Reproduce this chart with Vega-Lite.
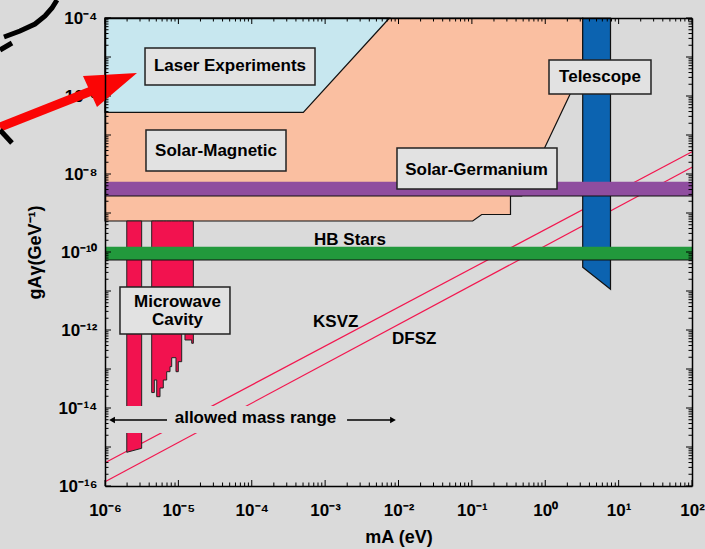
{
  "$schema": "https://vega.github.io/schema/vega-lite/v6.json",
  "width": 587,
  "height": 468,
  "autosize": "none",
  "padding": {"left": 105, "top": 18, "right": 13, "bottom": 63},
  "background": "#dadada",
  "config": {"view": {"stroke": null}, "font": "Liberation Sans"},
  "datasets": {
    "models": [
      {"model": "KSVZ", "x": 1e-6, "g": 3.95e-16},
      {"model": "KSVZ", "x": 100, "g": 3.73e-8},
      {"model": "DFSZ", "x": 1e-6, "g": 1.29e-16},
      {"model": "DFSZ", "x": 100, "g": 1.485e-8}
    ],
    "areas": [
      {"name": "solar", "i": 1, "x": 1e-6, "lo": 6.24e-10, "hi": 1e-4},
      {"name": "solar", "i": 2, "x": 0.1026, "lo": 6.24e-10, "hi": 1e-4},
      {"name": "solar", "i": 3, "x": 0.1361, "lo": 9.16e-10, "hi": 1e-4},
      {"name": "solar", "i": 4, "x": 0.336, "lo": 9.16e-10, "hi": 1e-4},
      {"name": "solar", "i": 5, "x": 0.336, "lo": 2.73e-9, "hi": 1e-4},
      {"name": "solar", "i": 6, "x": 0.479, "lo": 2.73e-9, "hi": 1e-4},
      {"name": "solar", "i": 7, "x": 3.24, "lo": 5.38e-6, "hi": 1e-4},
      {"name": "solar", "i": 8, "x": 3.24, "lo": 1e-4, "hi": 1e-4},
      {"name": "laser", "i": 1, "x": 1e-6, "lo": 3.82e-7, "hi": 1e-4},
      {"name": "laser", "i": 2, "x": 5.04e-4, "lo": 3.82e-7, "hi": 1e-4},
      {"name": "laser", "i": 3, "x": 7.54e-3, "lo": 1e-4, "hi": 1e-4},
      {"name": "telescope", "i": 1, "x": 3.24, "lo": 4.06e-11, "hi": 1e-4},
      {"name": "telescope", "i": 2, "x": 7.75, "lo": 1.107e-11, "hi": 1e-4},
      {"name": "cavity1", "i": 1, "x": 1.98e-6, "lo": 7.31e-16, "hi": 6.24e-10},
      {"name": "cavity1", "i": 2, "x": 3.16e-6, "lo": 9.27e-16, "hi": 6.24e-10},
      {"name": "cavity2", "i": 1, "x": 4.33e-6, "lo": 2.49e-14, "hi": 6.24e-10},
      {"name": "cavity2", "i": 2, "x": 4.70e-6, "lo": 5.22e-14, "hi": 6.24e-10},
      {"name": "cavity2", "i": 3, "x": 5.07e-6, "lo": 1.95e-14, "hi": 6.24e-10},
      {"name": "cavity2", "i": 4, "x": 5.62e-6, "lo": 3.26e-14, "hi": 6.24e-10},
      {"name": "cavity2", "i": 5, "x": 6.23e-6, "lo": 5.22e-14, "hi": 6.24e-10},
      {"name": "cavity2", "i": 6, "x": 6.93e-6, "lo": 8.53e-14, "hi": 6.24e-10},
      {"name": "cavity2", "i": 7, "x": 7.69e-6, "lo": 1.15e-13, "hi": 6.24e-10},
      {"name": "cavity2", "i": 8, "x": 8.11e-6, "lo": 1.95e-13, "hi": 6.24e-10},
      {"name": "cavity2", "i": 9, "x": 9.28e-6, "lo": 8.53e-14, "hi": 6.24e-10},
      {"name": "cavity2", "i": 10, "x": 9.98e-6, "lo": 1.54e-13, "hi": 6.24e-10},
      {"name": "cavity2", "i": 11, "x": 1.11e-5, "lo": 8.38e-13, "hi": 6.24e-10},
      {"name": "cavity2", "i": 12, "x": 1.23e-5, "lo": 5.55e-13, "hi": 6.24e-10},
      {"name": "cavity2", "i": 13, "x": 1.52e-5, "lo": 4.56e-13, "hi": 6.24e-10},
      {"name": "cavity2", "i": 14, "x": 1.60e-5, "lo": 4.56e-13, "hi": 6.24e-10},
      {"name": "arrowhead", "i": 1, "x": 5.013e-7, "lo": 3.257e-6, "hi": 3.257e-6},
      {"name": "arrowhead", "i": 2, "x": 7.78e-7, "lo": 5.222e-7, "hi": 3.41e-6},
      {"name": "arrowhead", "i": 3, "x": 2.729e-6, "lo": 3.888e-6, "hi": 3.888e-6}
    ],
    "bands": [
      {"band": "Solar-Germanium", "x1": 1e-6, "x2": 100, "lo": 2.73e-9, "hi": 6.35e-9},
      {"band": "HB Stars", "x1": 1e-6, "x2": 100, "lo": 6.24e-11, "hi": 1.37e-10}
    ],
    "boxes": [
      {"box": "Laser Experiments", "x1": 3.51e-6, "x2": 7.28e-4, "y1": 1.914e-6, "y2": 1.702e-5},
      {"box": "Solar-Magnetic", "x1": 3.62e-6, "x2": 2.93e-4, "y1": 1.194e-8, "y2": 1.343e-7},
      {"box": "Telescope", "x1": 1.125, "x2": 27.62, "y1": 1.125e-6, "y2": 8.375e-6},
      {"box": "Solar-Germanium", "x1": 9.54e-3, "x2": 1.446, "y1": 4.124e-9, "y2": 4.64e-8},
      {"box": "Microwave Cavity", "x1": 1.6e-6, "x2": 5.05e-5, "y1": 7.9e-13, "y2": 1.267e-11}
    ],
    "mask": [
      {"x1": 1.37e-6, "x2": 1.23e-2, "y1": 2.29e-15, "y2": 1.12e-14}
    ],
    "labels": [
      {"label": "Laser Experiments", "x": 5.05e-5, "y": 5.71e-6},
      {"label": "Solar-Magnetic", "x": 3.257e-5, "y": 3.89e-8},
      {"label": "Telescope", "x": 5.576, "y": 3.07e-6},
      {"label": "Solar-Germanium", "x": 0.1156, "y": 1.304e-8},
      {"label": "Microwave\nCavity", "x": 9.73e-6, "y": 5.32e-12},
      {"label": "HB Stars", "x": 2.18e-3, "y": 2.03e-10},
      {"label": "KSVZ", "x": 1.393e-3, "y": 1.633e-12},
      {"label": "DFSZ", "x": 1.637e-2, "y": 5.88e-13},
      {"label": "allowed mass range", "x": 1.125e-4, "y": 5.54e-15}
    ],
    "rangeArrows": [
      {"dir": "left", "from": 7.0e-6, "to": 1.246e-6, "y": 4.92e-15},
      {"dir": "right", "from": 1.99e-3, "to": 8.415e-3, "y": 4.92e-15}
    ],
    "pointer": [
      {"x1": 3.707e-8, "y1": 1.604e-7, "x2": 6.65e-7, "y2": 1.367e-6}
    ],
    "curves": [
      {"piece": 1, "i": 1, "x": 2.217e-7, "y": 2.893e-4},
      {"piece": 1, "i": 2, "x": 1.895e-7, "y": 1.805e-4},
      {"piece": 1, "i": 3, "x": 1.522e-7, "y": 1.125e-4},
      {"piece": 1, "i": 4, "x": 1.112e-7, "y": 7.02e-5},
      {"piece": 1, "i": 5, "x": 6.94e-8, "y": 4.64e-5},
      {"piece": 1, "i": 6, "x": 4.2e-8, "y": 3.257e-5},
      {"piece": 2, "i": 1, "x": 3.707e-8, "y": 1.512e-5},
      {"piece": 2, "i": 2, "x": 5.4e-8, "y": 2.286e-5},
      {"piece": 3, "i": 1, "x": 3.707e-8, "y": 1.343e-7},
      {"piece": 3, "i": 2, "x": 5.4e-8, "y": 6.23e-8}
    ],
    "xticks": [
      {"v": 1e-6, "kind": "major"}, {"v": 2e-6, "kind": "minor"}, {"v": 3e-6, "kind": "minor"}, {"v": 4e-6, "kind": "minor"}, {"v": 5e-6, "kind": "minor"}, {"v": 6e-6, "kind": "minor"}, {"v": 7e-6, "kind": "minor"}, {"v": 8e-6, "kind": "minor"}, {"v": 9e-6, "kind": "minor"},
      {"v": 1e-5, "kind": "major"}, {"v": 2e-5, "kind": "minor"}, {"v": 3e-5, "kind": "minor"}, {"v": 4e-5, "kind": "minor"}, {"v": 5e-5, "kind": "minor"}, {"v": 6e-5, "kind": "minor"}, {"v": 7e-5, "kind": "minor"}, {"v": 8e-5, "kind": "minor"}, {"v": 9e-5, "kind": "minor"},
      {"v": 1e-4, "kind": "major"}, {"v": 2e-4, "kind": "minor"}, {"v": 3e-4, "kind": "minor"}, {"v": 4e-4, "kind": "minor"}, {"v": 5e-4, "kind": "minor"}, {"v": 6e-4, "kind": "minor"}, {"v": 7e-4, "kind": "minor"}, {"v": 8e-4, "kind": "minor"}, {"v": 9e-4, "kind": "minor"},
      {"v": 1e-3, "kind": "major"}, {"v": 2e-3, "kind": "minor"}, {"v": 3e-3, "kind": "minor"}, {"v": 4e-3, "kind": "minor"}, {"v": 5e-3, "kind": "minor"}, {"v": 6e-3, "kind": "minor"}, {"v": 7e-3, "kind": "minor"}, {"v": 8e-3, "kind": "minor"}, {"v": 9e-3, "kind": "minor"},
      {"v": 1e-2, "kind": "major"}, {"v": 2e-2, "kind": "minor"}, {"v": 3e-2, "kind": "minor"}, {"v": 4e-2, "kind": "minor"}, {"v": 5e-2, "kind": "minor"}, {"v": 6e-2, "kind": "minor"}, {"v": 7e-2, "kind": "minor"}, {"v": 8e-2, "kind": "minor"}, {"v": 9e-2, "kind": "minor"},
      {"v": 0.1, "kind": "major"}, {"v": 0.2, "kind": "minor"}, {"v": 0.3, "kind": "minor"}, {"v": 0.4, "kind": "minor"}, {"v": 0.5, "kind": "minor"}, {"v": 0.6, "kind": "minor"}, {"v": 0.7, "kind": "minor"}, {"v": 0.8, "kind": "minor"}, {"v": 0.9, "kind": "minor"},
      {"v": 1, "kind": "major"}, {"v": 2, "kind": "minor"}, {"v": 3, "kind": "minor"}, {"v": 4, "kind": "minor"}, {"v": 5, "kind": "minor"}, {"v": 6, "kind": "minor"}, {"v": 7, "kind": "minor"}, {"v": 8, "kind": "minor"}, {"v": 9, "kind": "minor"},
      {"v": 10, "kind": "major"}, {"v": 20, "kind": "minor"}, {"v": 30, "kind": "minor"}, {"v": 40, "kind": "minor"}, {"v": 50, "kind": "minor"}, {"v": 60, "kind": "minor"}, {"v": 70, "kind": "minor"}, {"v": 80, "kind": "minor"}, {"v": 90, "kind": "minor"},
      {"v": 100, "kind": "major"}
    ],
    "yticks": [
      {"v": 1e-16, "kind": "major"}, {"v": 2e-16, "kind": "minor"}, {"v": 3e-16, "kind": "minor"}, {"v": 4e-16, "kind": "minor"}, {"v": 5e-16, "kind": "minor"}, {"v": 6e-16, "kind": "minor"}, {"v": 7e-16, "kind": "minor"}, {"v": 8e-16, "kind": "minor"}, {"v": 9e-16, "kind": "minor"},
      {"v": 1e-15, "kind": "major"}, {"v": 2e-15, "kind": "minor"}, {"v": 3e-15, "kind": "minor"}, {"v": 4e-15, "kind": "minor"}, {"v": 5e-15, "kind": "minor"}, {"v": 6e-15, "kind": "minor"}, {"v": 7e-15, "kind": "minor"}, {"v": 8e-15, "kind": "minor"}, {"v": 9e-15, "kind": "minor"},
      {"v": 1e-14, "kind": "major"}, {"v": 2e-14, "kind": "minor"}, {"v": 3e-14, "kind": "minor"}, {"v": 4e-14, "kind": "minor"}, {"v": 5e-14, "kind": "minor"}, {"v": 6e-14, "kind": "minor"}, {"v": 7e-14, "kind": "minor"}, {"v": 8e-14, "kind": "minor"}, {"v": 9e-14, "kind": "minor"},
      {"v": 1e-13, "kind": "major"}, {"v": 2e-13, "kind": "minor"}, {"v": 3e-13, "kind": "minor"}, {"v": 4e-13, "kind": "minor"}, {"v": 5e-13, "kind": "minor"}, {"v": 6e-13, "kind": "minor"}, {"v": 7e-13, "kind": "minor"}, {"v": 8e-13, "kind": "minor"}, {"v": 9e-13, "kind": "minor"},
      {"v": 1e-12, "kind": "major"}, {"v": 2e-12, "kind": "minor"}, {"v": 3e-12, "kind": "minor"}, {"v": 4e-12, "kind": "minor"}, {"v": 5e-12, "kind": "minor"}, {"v": 6e-12, "kind": "minor"}, {"v": 7e-12, "kind": "minor"}, {"v": 8e-12, "kind": "minor"}, {"v": 9e-12, "kind": "minor"},
      {"v": 1e-11, "kind": "major"}, {"v": 2e-11, "kind": "minor"}, {"v": 3e-11, "kind": "minor"}, {"v": 4e-11, "kind": "minor"}, {"v": 5e-11, "kind": "minor"}, {"v": 6e-11, "kind": "minor"}, {"v": 7e-11, "kind": "minor"}, {"v": 8e-11, "kind": "minor"}, {"v": 9e-11, "kind": "minor"},
      {"v": 1e-10, "kind": "major"}, {"v": 2e-10, "kind": "minor"}, {"v": 3e-10, "kind": "minor"}, {"v": 4e-10, "kind": "minor"}, {"v": 5e-10, "kind": "minor"}, {"v": 6e-10, "kind": "minor"}, {"v": 7e-10, "kind": "minor"}, {"v": 8e-10, "kind": "minor"}, {"v": 9e-10, "kind": "minor"},
      {"v": 1e-9, "kind": "major"}, {"v": 2e-9, "kind": "minor"}, {"v": 3e-9, "kind": "minor"}, {"v": 4e-9, "kind": "minor"}, {"v": 5e-9, "kind": "minor"}, {"v": 6e-9, "kind": "minor"}, {"v": 7e-9, "kind": "minor"}, {"v": 8e-9, "kind": "minor"}, {"v": 9e-9, "kind": "minor"},
      {"v": 1e-8, "kind": "major"}, {"v": 2e-8, "kind": "minor"}, {"v": 3e-8, "kind": "minor"}, {"v": 4e-8, "kind": "minor"}, {"v": 5e-8, "kind": "minor"}, {"v": 6e-8, "kind": "minor"}, {"v": 7e-8, "kind": "minor"}, {"v": 8e-8, "kind": "minor"}, {"v": 9e-8, "kind": "minor"},
      {"v": 1e-7, "kind": "major"}, {"v": 2e-7, "kind": "minor"}, {"v": 3e-7, "kind": "minor"}, {"v": 4e-7, "kind": "minor"}, {"v": 5e-7, "kind": "minor"}, {"v": 6e-7, "kind": "minor"}, {"v": 7e-7, "kind": "minor"}, {"v": 8e-7, "kind": "minor"}, {"v": 9e-7, "kind": "minor"},
      {"v": 1e-6, "kind": "major"}, {"v": 2e-6, "kind": "minor"}, {"v": 3e-6, "kind": "minor"}, {"v": 4e-6, "kind": "minor"}, {"v": 5e-6, "kind": "minor"}, {"v": 6e-6, "kind": "minor"}, {"v": 7e-6, "kind": "minor"}, {"v": 8e-6, "kind": "minor"}, {"v": 9e-6, "kind": "minor"},
      {"v": 1e-5, "kind": "major"}, {"v": 2e-5, "kind": "minor"}, {"v": 3e-5, "kind": "minor"}, {"v": 4e-5, "kind": "minor"}, {"v": 5e-5, "kind": "minor"}, {"v": 6e-5, "kind": "minor"}, {"v": 7e-5, "kind": "minor"}, {"v": 8e-5, "kind": "minor"}, {"v": 9e-5, "kind": "minor"},
      {"v": 1e-4, "kind": "major"}
    ]
  },
  "resolve": {"axis": {"x": "independent", "y": "independent"}},
  "layer": [
    {
      "data": {"name": "models"},
      "mark": {"type": "line", "color": "#f2174f", "strokeWidth": 1.2},
      "encoding": {
        "x": {"field": "x", "type": "quantitative",
          "scale": {"type": "log", "domain": [1e-6, 100], "nice": false},
          "axis": {"orient": "bottom", "title": "mA (eV)", "titleFont": "Liberation Sans", "titleFontSize": 18, "titleFontWeight": "bold", "titleColor": "black", "titlePadding": 10,
            "labelFont": "Liberation Sans", "labelFontSize": 17, "labelFontWeight": "bold", "labelColor": "black", "labelPadding": 16,
            "labelExpr": "abs(log(datum.value)/LN10 - round(log(datum.value)/LN10)) < 0.01 ? '10' + (round(log(datum.value)/LN10) < 0 ? '⁻' : '') + (abs(round(log(datum.value)/LN10)) >= 10 ? '¹' : '') + substring('⁰¹²³⁴⁵⁶⁷⁸⁹', abs(round(log(datum.value)/LN10)) % 10, abs(round(log(datum.value)/LN10)) % 10 + 1) : ''",
            "labelOverlap": false, "labelFlush": false, "labelBound": false, "ticks": false, "domain": false, "grid": false, "tickCount": 40, "zindex": 0}},
        "y": {"field": "g", "type": "quantitative",
          "scale": {"type": "log", "domain": [1e-16, 1e-4], "nice": false},
          "axis": {"orient": "left", "title": "gAγ(GeV⁻¹)", "titleFont": "Liberation Sans", "titleFontSize": 18, "titleFontWeight": "bold", "titleColor": "black", "titlePadding": 14,
            "labelFont": "Liberation Sans", "labelFontSize": 17, "labelFontWeight": "bold", "labelColor": "black", "labelPadding": 8,
            "labelExpr": "abs(log(datum.value)/LN10 - round(log(datum.value)/LN10)) < 0.01 && round(log(datum.value)/LN10) % 2 == 0 ? '10' + (round(log(datum.value)/LN10) < 0 ? '⁻' : '') + (abs(round(log(datum.value)/LN10)) >= 10 ? '¹' : '') + substring('⁰¹²³⁴⁵⁶⁷⁸⁹', abs(round(log(datum.value)/LN10)) % 10, abs(round(log(datum.value)/LN10)) % 10 + 1) : ''",
            "labelOverlap": false, "labelFlush": false, "labelBound": false, "ticks": false, "domain": false, "grid": false, "tickCount": 40, "zindex": 0}},
        "detail": {"field": "model"}
      }
    },
    {
      "data": {"name": "areas"},
      "transform": [{"filter": "datum.name == 'solar'"}],
      "mark": {"type": "area", "color": "#fabfa1", "stroke": "#111111", "strokeWidth": 1.2, "opacity": 1},
      "encoding": {
        "x": {"field": "x", "type": "quantitative", "axis": null},
        "y": {"field": "lo", "type": "quantitative", "axis": null},
        "y2": {"field": "hi"}
      }
    },
    {
      "data": {"name": "areas"},
      "transform": [{"filter": "datum.name == 'laser'"}],
      "mark": {"type": "area", "color": "#c7e7ef", "stroke": "#111111", "strokeWidth": 1.2, "opacity": 1},
      "encoding": {
        "x": {"field": "x", "type": "quantitative", "axis": null},
        "y": {"field": "lo", "type": "quantitative", "axis": null},
        "y2": {"field": "hi"}
      }
    },
    {
      "data": {"name": "areas"},
      "transform": [{"filter": "datum.name == 'cavity1'"}],
      "mark": {"type": "area", "color": "#f2124f", "stroke": "#222222", "strokeWidth": 1, "opacity": 1},
      "encoding": {
        "x": {"field": "x", "type": "quantitative", "axis": null},
        "y": {"field": "lo", "type": "quantitative", "axis": null},
        "y2": {"field": "hi"}
      }
    },
    {
      "data": {"name": "areas"},
      "transform": [{"filter": "datum.name == 'cavity2'"}],
      "mark": {"type": "area", "interpolate": "step-after", "color": "#f2124f", "stroke": "#222222", "strokeWidth": 1, "opacity": 1},
      "encoding": {
        "x": {"field": "x", "type": "quantitative", "axis": null},
        "y": {"field": "lo", "type": "quantitative", "axis": null},
        "y2": {"field": "hi"}
      }
    },
    {
      "data": {"name": "areas"},
      "transform": [{"filter": "datum.name == 'telescope'"}],
      "mark": {"type": "area", "color": "#0c63b0", "stroke": "#111111", "strokeWidth": 1.2, "opacity": 1},
      "encoding": {
        "x": {"field": "x", "type": "quantitative",
          "axis": {"orient": "top", "labels": false, "title": null, "domain": true, "domainColor": "black", "domainWidth": 1.5, "ticks": false, "grid": false, "zindex": 1}},
        "y": {"field": "lo", "type": "quantitative",
          "axis": {"orient": "right", "labels": false, "title": null, "domain": true, "domainColor": "black", "domainWidth": 1.5, "ticks": false, "grid": false, "zindex": 1}},
        "y2": {"field": "hi"}
      }
    },
    {
      "data": {"name": "bands"},
      "mark": {"type": "rect"},
      "encoding": {
        "x": {"field": "x1", "type": "quantitative",
          "axis": {"orient": "bottom", "labels": false, "title": null, "domain": true, "domainColor": "black", "domainWidth": 1.5, "ticks": false, "grid": false, "zindex": 1}},
        "x2": {"field": "x2"},
        "y": {"field": "lo", "type": "quantitative",
          "axis": {"orient": "left", "labels": false, "title": null, "domain": true, "domainColor": "black", "domainWidth": 1.5, "ticks": false, "grid": false, "zindex": 1}},
        "y2": {"field": "hi"},
        "color": {"field": "band", "type": "nominal", "scale": {"domain": ["Solar-Germanium", "HB Stars"], "range": ["#8f4d9f", "#22993c"]}, "legend": null}
      }
    },
    {
      "data": {"name": "bands"},
      "mark": {"type": "rule", "color": "#111111", "strokeWidth": 1.2},
      "encoding": {
        "x": {"field": "x1", "type": "quantitative", "axis": null},
        "x2": {"field": "x2"},
        "y": {"field": "lo", "type": "quantitative", "axis": null}
      }
    },
    {
      "data": {"name": "mask"},
      "mark": {"type": "rect", "color": "#dadada"},
      "encoding": {
        "x": {"field": "x1", "type": "quantitative", "axis": null},
        "x2": {"field": "x2"},
        "y": {"field": "y1", "type": "quantitative", "axis": null},
        "y2": {"field": "y2"}
      }
    },
    {
      "data": {"name": "boxes"},
      "mark": {"type": "rect", "fill": "#e2e2e2", "stroke": "#222222", "strokeWidth": 1.5},
      "encoding": {
        "x": {"field": "x1", "type": "quantitative", "axis": null},
        "x2": {"field": "x2"},
        "y": {"field": "y1", "type": "quantitative", "axis": null},
        "y2": {"field": "y2"}
      }
    },
    {
      "data": {"name": "labels"},
      "mark": {"type": "text", "font": "Liberation Sans", "fontWeight": "bold", "fontSize": 17, "color": "black", "align": "center", "baseline": "middle", "lineBreak": "\n", "lineHeight": 18},
      "encoding": {
        "x": {"field": "x", "type": "quantitative", "axis": null},
        "y": {"field": "y", "type": "quantitative", "axis": null},
        "text": {"field": "label"}
      }
    },
    {
      "data": {"name": "rangeArrows"},
      "mark": {"type": "rule", "color": "black", "strokeWidth": 1.3},
      "encoding": {
        "x": {"field": "from", "type": "quantitative", "axis": null},
        "x2": {"field": "to"},
        "y": {"field": "y", "type": "quantitative", "axis": null}
      }
    },
    {
      "data": {"name": "rangeArrows"},
      "mark": {"type": "point", "filled": true, "color": "black", "size": 45, "opacity": 1},
      "encoding": {
        "x": {"field": "to", "type": "quantitative", "axis": null},
        "y": {"field": "y", "type": "quantitative", "axis": null},
        "shape": {"field": "dir", "type": "nominal", "scale": {"domain": ["left", "right"], "range": ["triangle-left", "triangle-right"]}, "legend": null}
      }
    },
    {
      "data": {"name": "xticks"},
      "mark": {"type": "point", "shape": "M0,0L0,-1", "filled": false, "color": "black", "strokeWidth": 1, "opacity": 1},
      "encoding": {
        "x": {"field": "v", "type": "quantitative", "axis": null},
        "y": {"datum": 1e-16, "type": "quantitative", "axis": null},
        "size": {"field": "kind", "type": "nominal", "scale": {"domain": ["minor", "major"], "range": [49, 144]}, "legend": null}
      }
    },
    {
      "data": {"name": "xticks"},
      "mark": {"type": "point", "shape": "M0,0L0,1", "filled": false, "color": "black", "strokeWidth": 1, "opacity": 1},
      "encoding": {
        "x": {"field": "v", "type": "quantitative", "axis": null},
        "y": {"datum": 1e-4, "type": "quantitative", "axis": null},
        "size": {"field": "kind", "type": "nominal", "scale": {"domain": ["minor", "major"], "range": [49, 144]}, "legend": null}
      }
    },
    {
      "data": {"name": "yticks"},
      "mark": {"type": "point", "shape": "M0,0L1,0", "filled": false, "color": "black", "strokeWidth": 1, "opacity": 1},
      "encoding": {
        "x": {"datum": 1e-6, "type": "quantitative", "axis": null},
        "y": {"field": "v", "type": "quantitative", "axis": null},
        "size": {"field": "kind", "type": "nominal", "scale": {"domain": ["minor", "major"], "range": [49, 144]}, "legend": null}
      }
    },
    {
      "data": {"name": "yticks"},
      "mark": {"type": "point", "shape": "M0,0L-1,0", "filled": false, "color": "black", "strokeWidth": 1, "opacity": 1},
      "encoding": {
        "x": {"datum": 100, "type": "quantitative", "axis": null},
        "y": {"field": "v", "type": "quantitative", "axis": null},
        "size": {"field": "kind", "type": "nominal", "scale": {"domain": ["minor", "major"], "range": [49, 144]}, "legend": null}
      }
    },
    {
      "data": {"name": "pointer"},
      "mark": {"type": "rule", "color": "#fb0505", "strokeWidth": 9, "strokeCap": "butt"},
      "encoding": {
        "x": {"field": "x1", "type": "quantitative", "axis": null},
        "x2": {"field": "x2"},
        "y": {"field": "y1", "type": "quantitative", "axis": null},
        "y2": {"field": "y2"}
      }
    },
    {
      "data": {"name": "areas"},
      "transform": [{"filter": "datum.name == 'arrowhead'"}],
      "mark": {"type": "area", "color": "#fb0505", "opacity": 1},
      "encoding": {
        "x": {"field": "x", "type": "quantitative", "axis": null},
        "y": {"field": "lo", "type": "quantitative", "axis": null},
        "y2": {"field": "hi"}
      }
    },
    {
      "data": {"name": "curves"},
      "mark": {"type": "line", "color": "black", "strokeWidth": 5, "strokeCap": "butt"},
      "encoding": {
        "x": {"field": "x", "type": "quantitative", "axis": null},
        "y": {"field": "y", "type": "quantitative", "axis": null},
        "detail": {"field": "piece"},
        "order": {"field": "i", "type": "quantitative"}
      }
    }
  ]
}
